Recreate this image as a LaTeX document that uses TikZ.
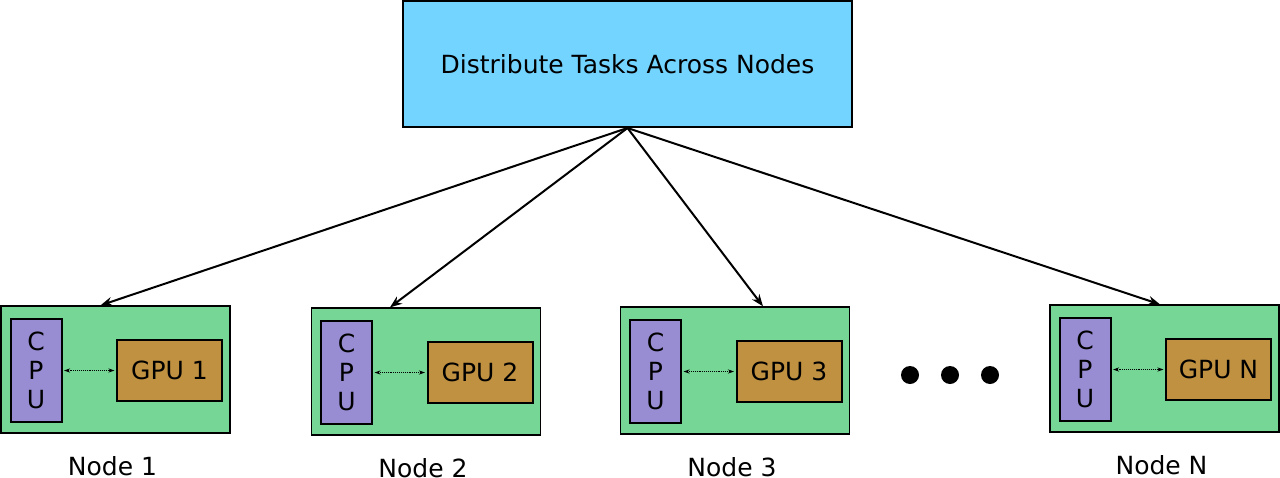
\documentclass[tikz,border=0pt]{standalone}
\usepackage{fontspec}
\setmainfont{DejaVu Sans}
\usetikzlibrary{calc,arrows.meta}

\definecolor{taskblue}{HTML}{72D4FF}
\definecolor{hostgreen}{HTML}{76D695}
\definecolor{cpupurple}{HTML}{988CD2}
\definecolor{gpubrown}{HTML}{C09140}

\begin{document}
\begin{tikzpicture}[x=1pt,y=-1pt,
		font=\fontsize{25}{29}\selectfont,
		taskbox/.style={draw,line width=2pt,fill=taskblue,minimum width=449pt,minimum height=126pt,inner sep=0pt},
		hostbox/.style={draw,line width=1.3pt,fill=hostgreen,minimum width=229pt,minimum height=127pt,inner sep=0pt},
		cpubox/.style={draw,line width=2pt,fill=cpupurple,minimum width=51pt,minimum height=103pt,inner sep=0pt,align=center},
		gpubox/.style={draw,line width=2pt,fill=gpubrown,minimum width=105pt,minimum height=61pt,inner sep=0pt},
		taskarrow/.style={line width=2pt,-{Stealth[length=12pt,width=9pt]}},
		linkarrow/.style={densely dotted,line width=0.9pt,{Stealth[length=6pt,width=4pt]}-{Stealth[length=6pt,width=4pt]},shorten <=1.5pt,shorten >=1.5pt}]
	\useasboundingbox (0,0) rectangle (1280,477);
	
	\node[taskbox] (tasks) at (627.5,64) {Distribute Tasks Across Nodes};
	
	\foreach \n/\x/\y/\dx in {1/115.5/369.5/-15, 2/426/371.5/-36, 3/735/370.5/28, N/1164.5/368.5/-4.5}{
		\node[hostbox] (host\n) at (\x,\y) {};
		\node[cpubox] (cpu\n) at ($(host\n)+(-79.5,1)$) {C\\P\\U};
		\node[gpubox] (gpu\n) at ($(host\n)+(54,1)$) {GPU \n};
		\node[inner sep=0pt] (label\n) at ($(host\n)+(-3,96.5)$) {Node \n};
		\draw[linkarrow] (cpu\n.east) -- (gpu\n.west);
		\draw[taskarrow] (tasks.south) -- ([xshift=\dx pt]host\n.north);
	}
	
	% dots between node 3 and node N
	\foreach \d in {910,950,990}
		\fill (\d,375) circle (9);
\end{tikzpicture}
\end{document}
